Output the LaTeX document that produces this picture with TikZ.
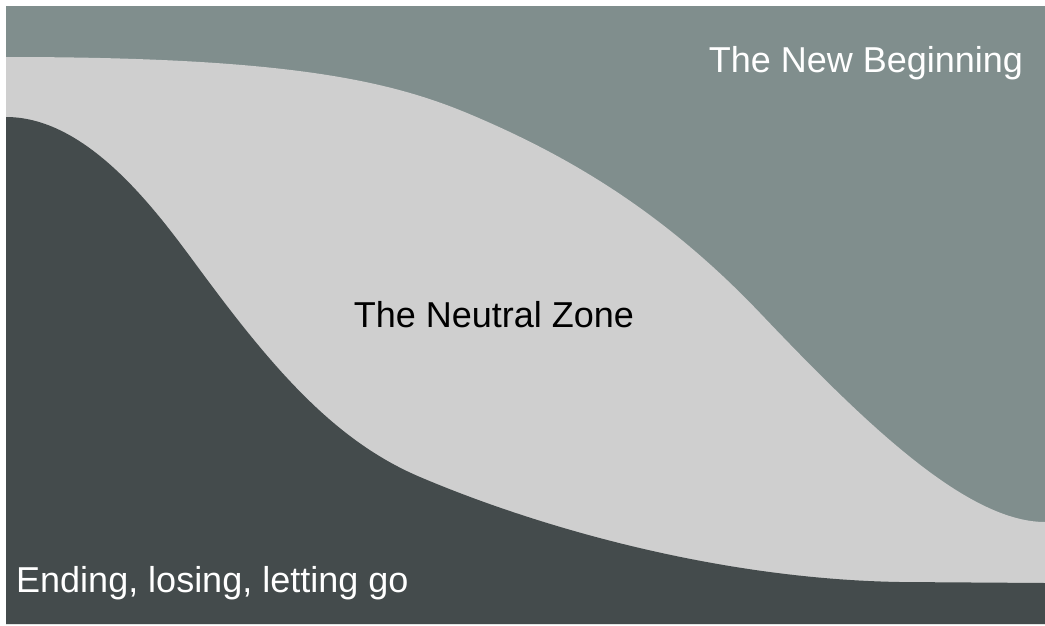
\documentclass[tikz,border=0pt]{standalone}
\usepackage{fontspec}
\setmainfont{Liberation Sans}
\definecolor{beginfill}{RGB}{128,142,141}
\definecolor{neutralfill}{RGB}{207,207,207}
\definecolor{endfill}{RGB}{68,75,76}
\tikzset{
    zonelabel/.style={inner sep=0pt, font=\fontsize{36}{40}\selectfont},
}
\begin{document}
\begin{tikzpicture}[x=1pt, y=-1pt]
    \useasboundingbox (0,0) rectangle (1045,625);

    % The new beginning (whole panel)
    \fill[beginfill] (6,6) rectangle (1045,624);

    % The neutral zone, below the upper curve
    \fill[neutralfill] (6,57) .. controls (280,57) and (385,79) .. (467,113)
        .. controls (565,154) and (662,210) .. (760,313)
        .. controls (860,418) and (965,522) .. (1045,522)
        -- (1045,624) -- (6,624) -- cycle;

    % Ending, losing, letting go, below the lower curve
    \fill[endfill] (6,117) .. controls (90,117) and (160,216) .. (200,270)
        .. controls (273,369) and (335,441) .. (420,477)
        .. controls (540,528) and (720,579) .. (900,582)
        -- (1045,583) -- (1045,624) -- (6,624) -- cycle;

    % Labels
    \node[zonelabel, white, anchor=base] (newbeginning) at (866,72) {The New Beginning};
    \node[zonelabel, black, anchor=base] (neutral) at (494,327) {The Neutral Zone};
    \node[zonelabel, white, anchor=base west] (ending) at (16,592) {Ending, losing, letting go};
\end{tikzpicture}
\end{document}
